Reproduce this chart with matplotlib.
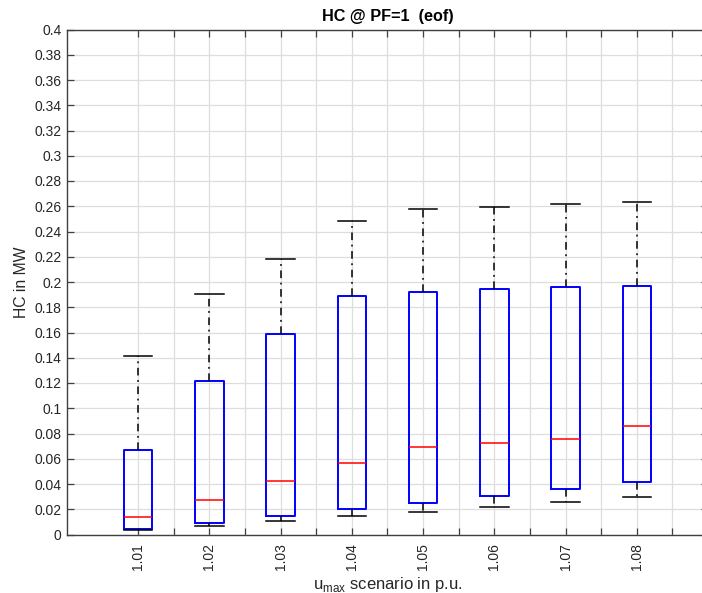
import matplotlib
matplotlib.use("Agg")
import matplotlib.pyplot as plt
import numpy as np

plt.rcParams['font.family'] = ['Liberation Sans', 'DejaVu Sans']

scenarios = ["1.01", "1.02", "1.03", "1.04", "1.05", "1.06", "1.07", "1.08"]
whisker_low = [0.0034, 0.0068, 0.0105, 0.0143, 0.0179, 0.0219, 0.0256, 0.0296]
q1 = [0.0044, 0.0095, 0.0145, 0.0201, 0.0251, 0.0304, 0.0359, 0.0412]
median = [0.0137, 0.0277, 0.0420, 0.0563, 0.0692, 0.0724, 0.0753, 0.0859]
q3 = [0.0671, 0.1213, 0.1591, 0.1892, 0.1921, 0.1943, 0.1959, 0.1971]
whisker_high = [0.1416, 0.1908, 0.2183, 0.2487, 0.2580, 0.2598, 0.2617, 0.2635]
y_ticks = [0, 0.02, 0.04, 0.06, 0.08, 0.1, 0.12, 0.14, 0.16, 0.18, 0.2,
           0.22, 0.24, 0.26, 0.28, 0.3, 0.32, 0.34, 0.36, 0.38, 0.4]

fig = plt.figure(figsize=(7.02, 5.93), dpi=100)
W, H = 702, 593
ax = fig.add_axes([67 / W, 1 - 534.5 / H, 641 / W, 505 / H])

stats = []
for i in range(len(scenarios)):
    stats.append(dict(med=median[i], q1=q1[i], q3=q3[i],
                      whislo=whisker_low[i], whishi=whisker_high[i],
                      fliers=[], label=scenarios[i]))

positions = np.arange(1, len(scenarios) + 1)
ax.set_axisbelow(True)
ax.bxp(stats, positions=positions, widths=0.4, capwidths=0.4,
       showfliers=False,
       boxprops=dict(color='#0000FF', linewidth=1.4),
       medianprops=dict(color='#FF0000', linewidth=1.1),
       whiskerprops=dict(color='black', linewidth=1.1, linestyle=(0, (5, 3, 1.2, 3))),
       capprops=dict(color='black', linewidth=1.1),
       manage_ticks=False)

ax.set_xlim(0, 9)
ax.set_ylim(0, 0.4)

xt = np.arange(1, 8.51, 0.5)
xlabels = []
for v in xt:
    if abs(v - round(v)) < 1e-9:
        xlabels.append(scenarios[int(round(v)) - 1])
    else:
        xlabels.append("")
ax.set_xticks(xt)
ax.set_xticklabels(xlabels, rotation=90, fontsize=10, color='#262626')
ax.set_yticks(y_ticks)
ax.set_yticklabels(["%g" % v for v in y_ticks], fontsize=10, color='#262626')

ax.tick_params(direction='in', length=5, width=0.9, top=True, right=True,
               colors='#404040', labelcolor='#262626', pad=4)
ax.tick_params(axis='x', pad=6)
ax.grid(True, color='#dedede', linewidth=0.9)
for s in ax.spines.values():
    s.set_color('#404040')
    s.set_linewidth(1.0)

ax.set_title("HC @ PF=1  (eof)", fontsize=11.7, fontweight='bold', pad=6, color='black')
ax.set_ylabel("HC in MW", fontsize=11.3, color='#262626', labelpad=4)
ax.set_xlabel(r"u$_{\mathregular{max}}$ scenario in p.u.", fontsize=12, color='#262626', labelpad=4)

fig.savefig("out.png", dpi=100)
